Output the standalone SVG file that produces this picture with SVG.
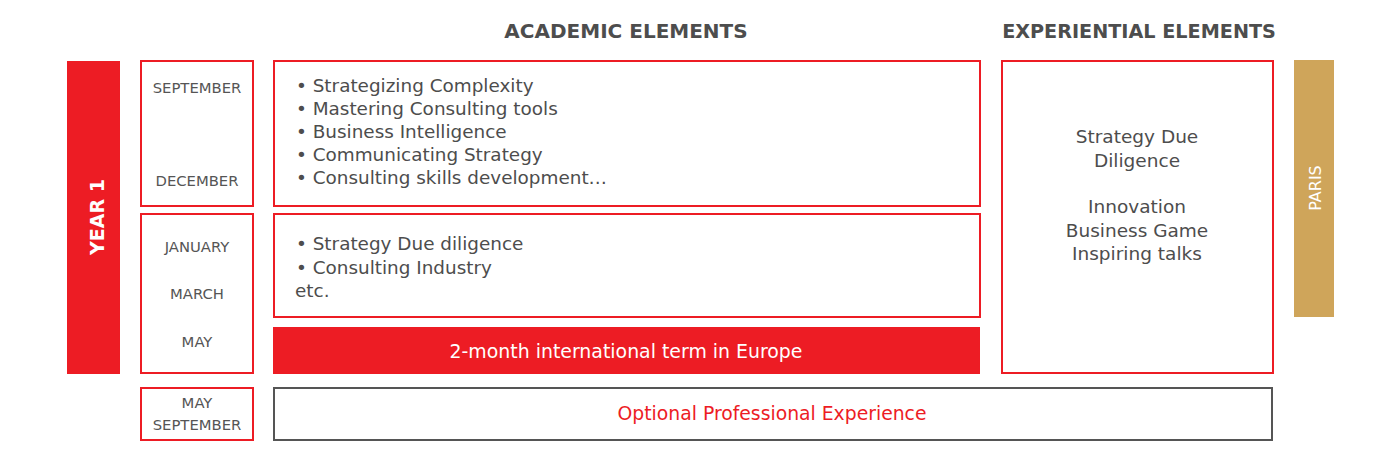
<svg xmlns="http://www.w3.org/2000/svg" width="1400" height="470" viewBox="0 0 1400 470">
<style>
.box{fill:#fff;stroke:#ED1C24;stroke-width:2}
.gbox{fill:#fff;stroke:#555;stroke-width:2}
.t{font-family:"DejaVu Sans","Open Sans",sans-serif;fill:#4d4d4d}
.head{font-size:20px;font-weight:700;text-anchor:middle}
.item{font-size:18.4px}
.mon{font-size:14.8px;text-anchor:middle;fill:#555}
.exp{font-size:18.5px;text-anchor:middle}
.w{fill:#fff}
</style>
<rect width="1400" height="470" fill="#fff"/>
<g id="headings">
<text class="t head" x="626" y="38">ACADEMIC ELEMENTS</text>
<text class="t head" x="1139" y="38" style="font-size:19.2px">EXPERIENTIAL ELEMENTS</text>
</g>
<g id="year1">
<rect x="67" y="61" width="53" height="313" fill="#ED1C24"/>
<text class="t w" x="0" y="0" font-size="19" font-weight="700" text-anchor="middle" transform="translate(104,217) rotate(-90)">YEAR 1</text>
</g>
<g id="paris">
<rect x="1294" y="60" width="40" height="257" fill="#CFA55A"/>
<text class="t w" x="0" y="0" font-size="16" text-anchor="middle" transform="translate(1321,188) rotate(-90)">PARIS</text>
</g>
<g id="months1">
<rect class="box" x="141" y="61" width="112" height="145"/>
<text class="t mon" x="197" y="93">SEPTEMBER</text>
<text class="t mon" x="197" y="186">DECEMBER</text>
</g>
<g id="months2">
<rect class="box" x="141" y="214" width="112" height="159"/>
<text class="t mon" x="197" y="252">JANUARY</text>
<text class="t mon" x="197" y="299">MARCH</text>
<text class="t mon" x="197" y="347">MAY</text>
</g>
<g id="months3">
<rect class="box" x="141" y="388" width="112" height="52"/>
<text class="t mon" x="197" y="408">MAY</text>
<text class="t mon" x="197" y="430">SEPTEMBER</text>
</g>
<g id="academic1">
<rect class="box" x="274" y="61" width="706" height="145"/>
<text class="t item" x="296" y="92">• Strategizing Complexity</text>
<text class="t item" x="296" y="115">• Mastering Consulting tools</text>
<text class="t item" x="296" y="138">• Business Intelligence</text>
<text class="t item" x="296" y="161">• Communicating Strategy</text>
<text class="t item" x="296" y="184">• Consulting skills development…</text>
</g>
<g id="academic2">
<rect class="box" x="274" y="214" width="706" height="103"/>
<text class="t item" x="296" y="250">• Strategy Due diligence</text>
<text class="t item" x="296" y="274">• Consulting Industry</text>
<text class="t item" x="295" y="297">etc.</text>
</g>
<g id="international">
<rect x="273" y="327" width="707" height="47" fill="#ED1C24"/>
<text class="t w" x="626" y="358" font-size="18.9" text-anchor="middle">2-month international term in Europe</text>
</g>
<g id="experiential">
<rect class="box" x="1002" y="61" width="271" height="312"/>
<text class="t exp" x="1137" y="143">Strategy Due</text>
<text class="t exp" x="1137" y="167">Diligence</text>
<text class="t exp" x="1137" y="213">Innovation</text>
<text class="t exp" x="1137" y="237">Business Game</text>
<text class="t exp" x="1137" y="260">Inspiring talks</text>
</g>
<g id="optional">
<rect class="gbox" x="274" y="388" width="998" height="52"/>
<text class="t" x="772" y="420" font-size="18.8" text-anchor="middle" style="fill:#ED1C24">Optional Professional Experience</text>
</g>
<g id="connectors"></g>
</svg>
